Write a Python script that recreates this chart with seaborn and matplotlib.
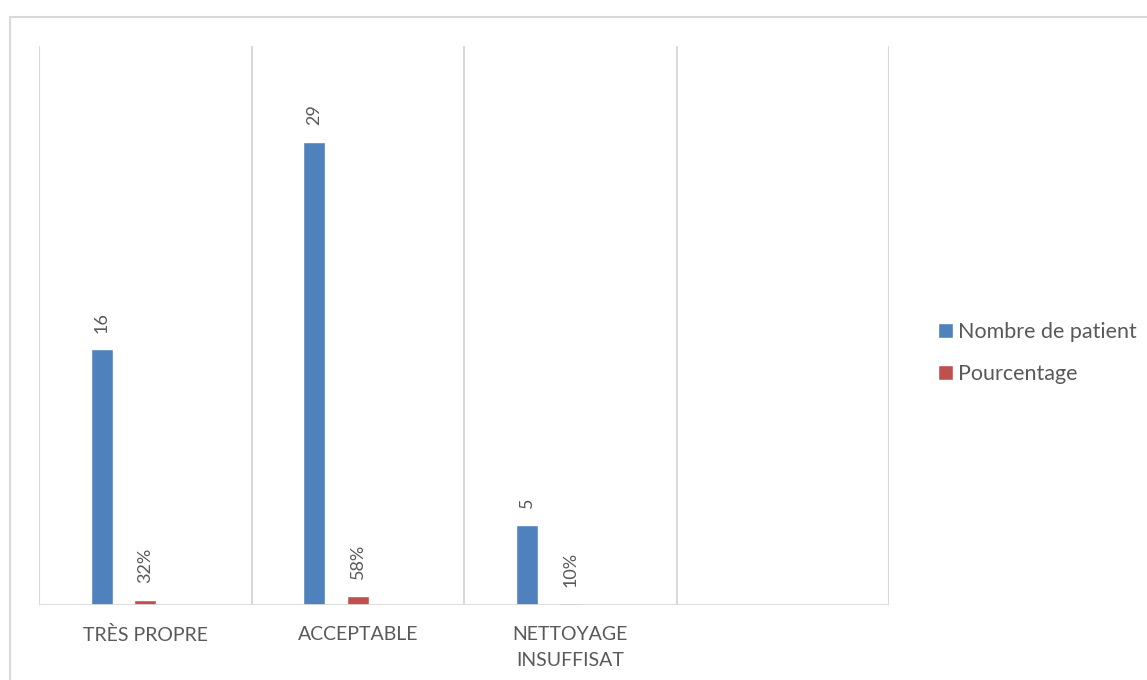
import matplotlib
matplotlib.use("Agg")
import matplotlib.pyplot as plt
import seaborn as sns
import pandas as pd
from matplotlib.patches import Patch

# Data
categories = ["TRÈS PROPRE", "ACCEPTABLE", "NETTOYAGE\nINSUFFISAT"]
nombre_patient = [16, 29, 5]
pourcentage = [0.32, 0.58, 0.10]
series_names = ["Nombre de patient", "Pourcentage"]

blue = "#4F81BD"
red = "#C0504D"
grid_col = "#D9D9D9"
text_col = "#595959"

rows = []
for cat, n, p in zip(categories, nombre_patient, pourcentage):
    rows.append({"cat": cat, "serie": series_names[0], "val": n})
    rows.append({"cat": cat, "serie": series_names[1], "val": p})
df = pd.DataFrame(rows)

sns.set_theme(style="white")
plt.rcParams["font.family"] = ["Lato", "DejaVu Sans"]

W, H = 1147, 680
fig = plt.figure(figsize=(W / 100, H / 100), dpi=100)

# outer chart frame
fig.add_artist(plt.Line2D([10 / W, 10 / W], [0, 1 - 17 / H], color=grid_col, lw=1.5))
fig.add_artist(plt.Line2D([10 / W, 1], [1 - 17 / H, 1 - 17 / H], color=grid_col, lw=1.5))

ax = fig.add_axes([39 / W, 1 - 605 / H, (889 - 39) / W, (605 - 46) / H])

order = categories + [""]
hue_order = series_names + ["_blank"]
sns.barplot(data=df, x="cat", y="val", hue="serie", order=order,
            hue_order=hue_order, palette=[blue, red, "white"],
            width=0.615, gap=0.49, errorbar=None, legend=False,
            saturation=1, ax=ax)

ax.set_xlim(-0.5, 3.5)
ax.set_ylim(0, 35)

for b in [-0.5, 0.5, 1.5, 2.5, 3.5]:
    ax.axvline(b, color=grid_col, lw=1.5, zorder=0)
ax.axhline(0, color=grid_col, lw=2, zorder=3)

for c in ax.containers:
    vals = c.datavalues
    if len(vals) == 0:
        continue
    if max(vals) > 1:
        labels = [f"{v:.0f}" for v in vals]
    else:
        labels = [f"{v:.0%}" for v in vals]
    ax.bar_label(c, labels=labels, rotation=90, padding=12,
                 color=text_col, fontsize=13)

for s in ax.spines.values():
    s.set_visible(False)
ax.set_yticks([])
ax.set_xlabel("")
ax.set_ylabel("")
ax.tick_params(axis="x", length=0, pad=15, labelsize=14, labelcolor=text_col)
for t in ax.get_xticklabels():
    t.set_linespacing(1.65)
    t.set_verticalalignment("top")

handles = [Patch(facecolor=blue), Patch(facecolor=red)]
fig.legend(handles, series_names, loc="center left",
           bbox_to_anchor=(927 / W, 1 - 353 / H), frameon=False,
           fontsize=15.5, handlelength=0.72, handleheight=0.72,
           handletextpad=0.22, labelspacing=1.0, borderpad=0,
           labelcolor=text_col)

fig.savefig("out.png", dpi=100)
